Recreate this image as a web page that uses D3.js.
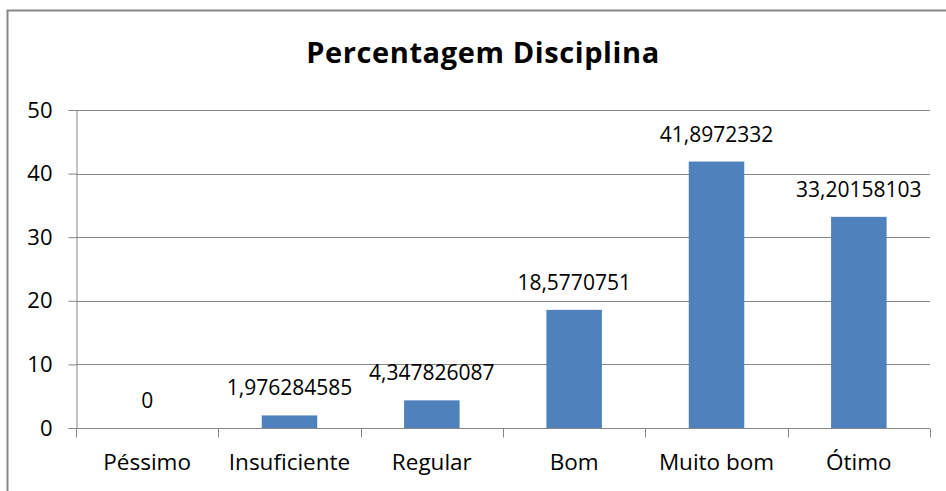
<!DOCTYPE html>
<html>
<head>
<meta charset="utf-8">
<script src="https://cdn.jsdelivr.net/npm/d3@7"></script>
<style>
  html, body { margin: 0; padding: 0; background: #fff; }
  svg { display: block; }
  text { font-family: "Open Sans", sans-serif; fill: #000; }
</style>
</head>
<body>
<svg id="chart" width="946" height="491"></svg>
<script>
// Percentagem por avaliação de disciplina
const categories = ["Péssimo", "Insuficiente", "Regular", "Bom", "Muito bom", "Ótimo"];
const values = [0, 1.976284585, 4.347826087, 18.5770751, 41.8972332, 33.20158103];
const valueLabels = ["0", "1,976284585", "4,347826087", "18,5770751", "41,8972332", "33,20158103"];
const yTicks = [0, 10, 20, 30, 40, 50];
const title = "Percentagem Disciplina";

const W = 946, H = 491;
const margin = { left: 76, right: 16, top: 110, bottom: 63 };
const FONT = "Open Sans, sans-serif";
const svg = d3.select("#chart");

// outer chart frame (continues past the right and bottom edges)
svg.append("rect")
  .attr("x", 7.5).attr("y", 10.5)
  .attr("width", W + 10).attr("height", H + 10)
  .attr("fill", "#fff").attr("stroke", "#878787").attr("stroke-width", 2);

const x = d3.scaleBand()
  .domain(categories)
  .range([margin.left, W - margin.right])
  .paddingInner(0.61).paddingOuter(0.305);
const xCat = d3.scaleBand().domain(categories).range([margin.left, W - margin.right]);
const y = d3.scaleLinear().domain([0, 50]).range([H - margin.bottom, margin.top]);

// horizontal grid
svg.append("g")
  .selectAll("line").data(yTicks.filter(d => d > 0)).join("line")
  .attr("x1", margin.left).attr("x2", W - margin.right)
  .attr("y1", d => Math.round(y(d)) + 0.5).attr("y2", d => Math.round(y(d)) + 0.5)
  .attr("stroke", "#868686").attr("stroke-width", 1);

// y axis
const yAxis = svg.append("g")
  .attr("transform", `translate(${margin.left + 0.5},0)`)
  .call(d3.axisLeft(y).tickValues(yTicks).tickSize(8).tickPadding(16).tickFormat(d3.format("d")));
yAxis.select(".domain").attr("stroke", "#868686");
yAxis.selectAll(".tick line").attr("stroke", "#868686");
yAxis.selectAll(".tick text").attr("font-size", 22).attr("font-family", FONT).attr("fill", "#000");

// x axis with ticks between categories
const xAxisG = svg.append("g").attr("transform", `translate(0,${Math.round(y(0)) + 0.5})`);
xAxisG.append("line")
  .attr("x1", margin.left).attr("x2", W - margin.right)
  .attr("stroke", "#868686");
const boundaries = categories.map(c => xCat(c)).concat([W - margin.right]);
xAxisG.selectAll("line.tk").data(boundaries).join("line").attr("class", "tk")
  .attr("x1", d => Math.round(d) + 0.5).attr("x2", d => Math.round(d) + 0.5)
  .attr("y1", 0).attr("y2", 9).attr("stroke", "#868686");
xAxisG.selectAll("text").data(categories).join("text")
  .attr("x", d => xCat(d) + xCat.bandwidth() / 2)
  .attr("y", 41)
  .attr("text-anchor", "middle")
  .attr("font-size", 22.5)
  .text(d => d);

// bars
svg.append("g")
  .selectAll("rect").data(categories).join("rect")
  .attr("x", d => x(d))
  .attr("width", x.bandwidth())
  .attr("y", (d, i) => y(values[i]))
  .attr("height", (d, i) => y(0) - y(values[i]))
  .attr("fill", "#4F81BD");

// value labels
svg.append("g")
  .selectAll("text").data(categories).join("text")
  .attr("x", d => xCat(d) + xCat.bandwidth() / 2)
  .attr("y", (d, i) => y(values[i]) - 20)
  .attr("text-anchor", "middle")
  .attr("font-size", 21)
  .text((d, i) => valueLabels[i]);

// title
svg.append("text")
  .attr("x", 483).attr("y", 63)
  .attr("text-anchor", "middle")
  .attr("font-size", 29)
  .attr("font-weight", "bold")
  .attr("letter-spacing", 0.6)
  .text(title);
</script>
</body>
</html>
